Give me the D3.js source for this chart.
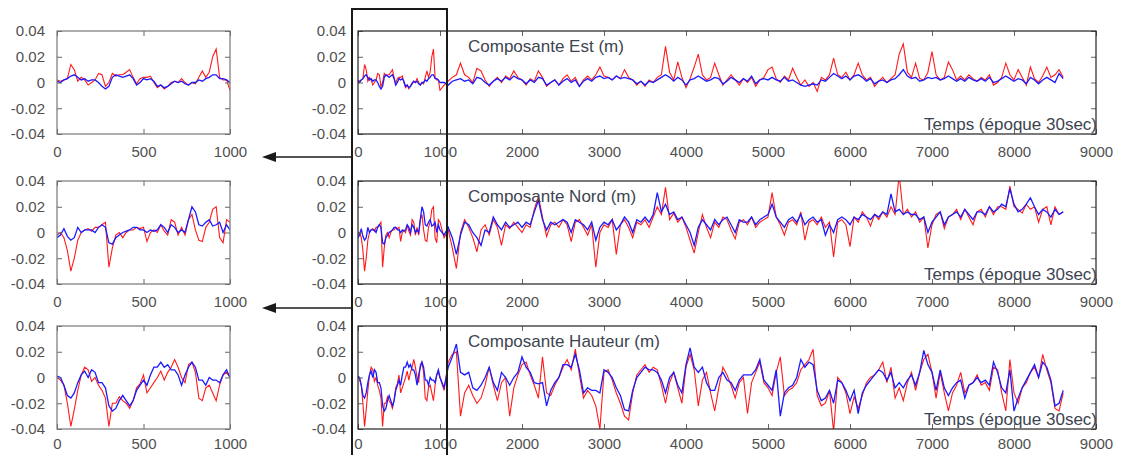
<!DOCTYPE html>
<html><head><meta charset="utf-8">
<script src="https://cdn.jsdelivr.net/npm/d3@7"></script>
<style>body{margin:0;background:#fff}svg{display:block}</style>
</head><body><svg id="c" width="1138" height="455"></svg>
<script>
// ---- DATA ----
// sampling epochs: 0..1000 every 20, then 1050..8600 every 50
const epochs = d3.range(0, 1001, 20).concat(d3.range(1050, 8601, 50));

const estRouge = [
 0.002,0.001,0.002,0.003,0.014,0.010,0.001,0.004,0.002,-0.002,
 0.000,0.002,0.007,0.006,-0.003,0.000,0.007,0.005,0.006,0.006,
 0.008,0.010,0.004,-0.001,0.003,0.004,0.004,0.005,0.000,-0.004,
 -0.002,-0.005,-0.003,0.000,0.001,0.000,0.003,0.000,-0.002,0.000,
 -0.001,0.004,0.009,0.004,0.008,0.020,0.026,0.004,0.002,0.002,
 -0.006,
 -0.002,0.001,0.004,0.006,0.015,0.006,0.004,0.000,0.011,0.009,
 0.002,-0.003,0.001,0.004,0.000,0.005,0.003,0.009,0.004,0.002,
 -0.002,0.003,0.001,0.009,0.004,-0.003,0.000,0.002,-0.002,0.003,
 0.006,0.001,0.004,-0.003,0.002,0.005,0.002,0.006,0.012,0.005,
 0.004,0.002,0.005,0.003,0.010,0.004,0.002,-0.002,0.001,-0.003,
 0.002,0.000,0.004,0.006,0.028,0.008,0.002,0.016,0.004,-0.004,
 0.003,0.012,0.022,0.006,0.002,0.004,0.015,0.006,-0.002,0.002,
 0.006,0.002,-0.002,0.003,0.000,0.004,-0.003,0.002,0.004,0.010,
 0.012,0.003,0.000,0.005,0.002,0.011,0.004,-0.002,0.002,-0.003,
 0.000,-0.007,0.004,0.002,0.006,0.019,0.006,0.004,0.008,0.002,
 0.006,0.015,0.006,0.002,0.004,-0.003,0.001,0.004,0.000,0.003,
 0.006,0.022,0.030,0.008,0.004,0.015,0.003,0.002,0.008,0.024,
 0.006,0.002,0.004,0.016,0.010,0.002,0.005,0.002,0.006,0.003,
 0.001,0.004,0.002,0.006,-0.002,0.000,0.004,0.015,0.006,0.002,
 0.010,0.004,-0.002,0.012,0.003,0.000,0.005,0.012,0.004,0.006,
 0.010,0.004
];
const estBleu = [
 0.001,0.000,0.002,0.003,0.005,0.006,0.004,0.002,0.003,0.001,
 0.002,0.002,0.000,-0.003,-0.005,-0.003,0.004,0.006,0.005,0.004,
 0.005,0.006,0.003,-0.002,0.000,0.003,0.002,0.003,0.001,-0.003,
 -0.002,-0.004,-0.003,-0.001,0.001,0.000,0.001,-0.001,-0.002,0.000,
 0.000,0.002,0.001,0.003,0.004,0.006,0.006,0.003,0.003,0.002,
 0.000,
 0.000,-0.002,0.001,0.002,0.003,0.001,0.002,-0.001,0.004,0.003,
 0.000,-0.002,0.001,0.003,0.001,0.004,0.002,0.005,0.003,0.002,
 -0.001,0.002,0.000,0.004,0.003,-0.002,0.000,0.002,-0.002,0.001,
 0.003,0.000,0.002,-0.003,0.001,0.003,0.001,0.004,0.005,0.003,
 0.004,0.002,0.005,0.003,0.004,0.003,0.002,-0.001,0.001,-0.002,
 0.001,0.000,0.002,0.004,0.006,0.004,0.001,0.004,0.002,-0.002,
 0.002,0.003,0.005,0.003,0.001,0.002,0.004,0.003,-0.001,0.001,
 0.004,0.002,0.000,0.003,0.001,0.005,-0.001,0.002,0.003,0.002,
 0.004,0.002,0.001,0.004,0.001,0.002,0.000,-0.002,-0.003,-0.002,
 -0.001,-0.002,0.002,0.001,0.004,0.007,0.005,0.003,0.005,0.002,
 0.005,0.006,0.004,0.001,0.003,-0.001,0.001,0.002,0.000,0.002,
 0.003,0.006,0.010,0.005,0.003,0.004,0.001,0.002,0.004,0.003,
 0.004,0.002,0.003,0.005,0.003,0.001,0.003,0.001,0.004,0.002,
 0.001,0.003,0.001,0.004,0.000,0.001,0.003,0.005,0.003,0.001,
 0.003,0.002,-0.001,0.004,0.002,-0.001,0.002,0.004,0.002,0.000,
 0.007,0.003
];
const nordRouge = [
 -0.002,0.000,-0.004,-0.014,-0.030,-0.020,-0.006,0.000,0.002,0.003,
 0.001,0.004,0.004,0.006,0.008,-0.027,-0.012,-0.002,0.000,-0.004,
 0.000,0.002,0.002,0.004,0.003,0.004,-0.007,0.000,0.002,0.000,
 0.006,0.001,-0.002,0.010,0.008,-0.002,0.004,-0.002,0.010,0.014,
 0.002,-0.006,-0.007,0.004,0.008,0.018,0.020,-0.004,-0.008,0.010,
 0.008,
 -0.004,0.002,-0.012,-0.028,0.000,0.010,0.004,-0.004,-0.015,0.002,
 0.006,-0.002,0.010,0.004,-0.010,0.006,0.003,0.008,0.004,0.000,
 0.006,0.004,0.018,0.028,0.012,-0.003,0.006,0.008,0.004,0.010,
 0.006,-0.007,0.008,0.010,0.004,-0.002,0.006,-0.027,0.000,0.006,
 0.004,0.010,-0.017,0.006,0.010,0.004,-0.004,0.008,0.006,0.010,
 0.004,0.012,0.020,0.014,0.035,0.010,0.015,0.008,0.012,0.004,
 -0.006,-0.016,0.000,0.014,0.004,-0.004,0.008,0.004,0.012,0.010,
 0.002,-0.005,0.008,0.010,0.006,0.012,0.004,0.008,0.010,0.012,
 0.031,0.012,0.006,-0.002,0.008,0.010,0.006,0.016,-0.006,0.008,
 0.010,0.006,0.012,0.004,0.008,-0.019,0.008,0.010,0.006,-0.011,
 0.012,0.008,0.016,0.012,0.005,0.014,0.010,0.016,0.012,0.020,
 0.014,0.045,0.014,0.018,0.012,0.016,0.008,0.012,-0.012,0.006,
 0.014,0.016,0.003,0.012,0.014,0.018,0.010,0.018,0.012,0.006,
 0.016,0.018,0.012,0.020,0.014,0.020,0.020,0.018,0.036,0.020,
 0.018,0.015,0.022,0.018,0.020,0.008,0.018,0.020,0.006,0.020,
 0.014,0.016
];
const nordBleu = [
 -0.004,-0.002,0.003,-0.003,-0.006,-0.004,0.004,0.000,0.002,0.002,
 0.002,0.000,0.004,0.006,0.004,-0.008,-0.009,-0.004,-0.002,0.000,
 0.001,0.002,0.004,0.004,0.002,0.002,0.000,0.002,0.001,0.002,
 0.006,0.004,0.000,0.006,0.004,0.000,0.002,0.000,0.010,0.020,
 0.016,0.006,0.005,0.008,0.010,0.005,0.006,0.008,0.000,0.006,
 0.002,
 -0.002,0.004,-0.004,-0.017,-0.002,0.008,0.006,0.000,-0.004,-0.010,
 0.002,0.000,0.012,0.006,0.002,0.008,0.004,0.006,0.008,0.004,
 0.008,0.006,0.016,0.025,0.010,0.002,0.008,0.006,0.008,0.010,
 0.008,0.000,0.010,0.008,0.006,0.002,0.008,-0.006,0.004,0.008,
 0.006,0.010,0.002,0.006,0.012,0.008,0.000,0.010,0.008,0.012,
 0.008,0.014,0.031,0.016,0.022,0.014,0.016,0.010,0.012,0.006,
 0.000,-0.010,0.004,0.010,0.006,0.002,0.010,0.006,0.010,0.012,
 0.006,0.000,0.010,0.008,0.008,0.012,0.006,0.010,0.012,0.014,
 0.022,0.012,0.008,0.004,0.010,0.012,0.008,0.014,0.006,0.010,
 0.012,0.008,0.010,-0.002,0.006,0.000,0.010,0.012,0.010,0.006,
 0.012,0.010,0.014,0.012,0.010,0.014,0.012,0.016,0.014,0.030,
 0.016,0.018,0.014,0.016,0.014,0.014,0.010,0.012,0.000,0.008,
 0.012,0.016,0.006,0.012,0.014,0.016,0.012,0.018,0.014,0.010,
 0.016,0.016,0.014,0.020,0.016,0.018,0.022,0.020,0.034,0.022,
 0.016,0.018,0.022,0.027,0.020,0.014,0.018,0.016,0.012,0.018,
 0.014,0.016
];
const hautRouge = [
 0.000,-0.002,-0.006,-0.020,-0.038,-0.025,-0.010,0.002,0.008,0.006,
 -0.003,0.000,-0.006,-0.010,-0.016,-0.038,-0.020,-0.020,-0.015,-0.018,
 -0.020,-0.024,-0.018,-0.008,-0.005,0.002,-0.012,-0.008,-0.004,0.000,
 0.005,-0.002,0.004,0.008,0.014,0.008,0.000,-0.004,0.010,0.012,
 0.004,-0.016,-0.018,-0.008,-0.006,-0.012,-0.018,-0.006,0.002,0.004,
 0.000,
 -0.010,0.012,0.018,0.020,-0.030,-0.012,-0.006,-0.014,-0.020,-0.016,
 -0.006,0.008,-0.006,-0.018,-0.004,0.000,-0.030,-0.008,0.002,0.010,
 0.012,0.002,-0.006,-0.016,0.016,-0.012,-0.014,-0.006,0.000,0.008,
 0.014,0.006,0.022,0.002,-0.016,-0.010,-0.014,-0.022,-0.040,0.004,
 0.006,-0.002,-0.012,-0.020,-0.030,-0.033,-0.012,0.002,0.006,0.010,
 0.004,0.008,0.006,-0.006,-0.020,-0.004,0.004,-0.008,-0.020,0.008,
 0.018,0.006,-0.022,-0.002,0.004,-0.012,-0.026,-0.008,0.008,0.002,
 -0.006,-0.016,-0.004,0.000,-0.028,-0.004,0.004,0.012,-0.004,-0.008,
 -0.014,0.004,0.016,-0.014,-0.010,-0.008,-0.004,0.006,0.010,0.014,
 0.022,-0.014,-0.022,-0.020,-0.010,-0.042,0.000,-0.004,-0.012,-0.028,
 -0.015,-0.024,-0.014,-0.004,0.000,0.002,0.006,0.012,-0.004,0.008,
 -0.016,-0.008,-0.018,-0.004,0.004,-0.010,0.004,0.014,0.018,0.004,
 -0.016,0.004,-0.012,-0.026,-0.012,-0.006,0.004,-0.012,-0.006,-0.004,
 0.002,-0.006,-0.004,-0.010,0.008,0.006,-0.012,-0.026,0.014,-0.012,
 -0.020,-0.008,-0.004,0.004,0.008,0.000,0.018,0.006,-0.004,-0.024,
 -0.026,-0.012
];
const hautBleu = [
 0.001,0.000,-0.006,-0.014,-0.016,-0.012,-0.004,0.002,0.005,0.000,
 0.006,0.004,-0.004,-0.004,-0.008,-0.022,-0.026,-0.024,-0.018,-0.014,
 -0.018,-0.022,-0.018,-0.010,-0.006,-0.002,-0.006,0.002,0.008,0.008,
 0.012,0.008,0.010,0.006,0.006,0.002,-0.006,0.002,0.008,0.012,
 0.008,-0.002,-0.002,-0.006,0.000,-0.002,-0.002,-0.004,0.002,0.006,
 0.000,
 -0.008,0.008,0.016,0.026,0.004,0.002,0.004,-0.008,-0.010,-0.006,
 0.000,0.008,-0.004,-0.010,0.004,0.000,-0.006,0.000,0.004,0.016,
 0.008,0.004,-0.004,-0.005,-0.004,-0.022,-0.010,-0.004,0.000,0.010,
 0.010,0.008,0.018,0.006,-0.012,-0.008,-0.010,-0.010,-0.012,0.006,
 0.004,0.000,-0.008,-0.014,-0.025,-0.026,-0.010,0.000,0.004,0.008,
 0.006,0.006,0.004,-0.002,-0.012,0.000,0.004,-0.006,-0.012,0.010,
 0.023,0.008,0.004,0.008,-0.004,-0.010,-0.010,0.000,0.004,-0.002,
 -0.004,-0.010,-0.002,0.002,0.002,0.002,0.006,0.014,-0.002,-0.006,
 -0.010,0.006,-0.030,-0.012,-0.008,-0.006,0.000,0.014,0.008,0.012,
 0.010,-0.010,-0.018,-0.016,-0.010,-0.020,-0.002,-0.004,-0.010,-0.018,
 -0.010,-0.028,-0.012,-0.006,-0.002,0.002,0.006,0.004,-0.002,0.004,
 -0.008,-0.004,-0.008,-0.002,0.002,-0.006,0.004,0.021,0.010,0.004,
 -0.010,0.006,-0.008,-0.014,-0.008,-0.004,-0.002,-0.016,-0.006,-0.004,
 0.000,-0.004,-0.002,-0.006,0.012,0.004,-0.008,-0.012,0.006,-0.026,
 -0.016,-0.008,-0.002,0.004,0.010,0.000,0.012,0.008,-0.002,-0.022,
 -0.020,-0.010
];

const titres = ['Composante Est (m)', 'Composante Nord (m)', 'Composante Hauteur (m)'];
const axeTemps = 'Temps (époque 30sec)';
const yTicks = [0.04, 0.02, 0, -0.02, -0.04];
const yTickLabels = ['0.04', '0.02', '0', '-0.02', '-0.04'];
const xTicksMain = [0, 1000, 2000, 3000, 4000, 5000, 6000, 7000, 8000, 9000];
const xTicksZoom = [0, 500, 1000];

// ---- DRAWING ----
const svg = d3.select('#c');
const FONT = '"Liberation Sans", Arial, sans-serif';
const rows = [{t: 31, b: 134, p: 12}, {t: 181, b: 284, p: 12}, {t: 326, b: 429, p: 9}];
const comps = [[estRouge, estBleu], [nordRouge, nordBleu], [hautRouge, hautBleu]];
const yFmt = d => yTickLabels[yTicks.indexOf(d)];

function panel(id, x0, x1, top, bot, pad, dom, xt, red, blue, frame, title) {
  const x = d3.scaleLinear().domain(dom).range([x0, x1]);
  const y = d3.scaleLinear().domain([-0.04, 0.04]).range([bot, top]);
  const g = svg.append('g');
  g.append('clipPath').attr('id', id).append('rect')
    .attr('x', x0).attr('y', top).attr('width', x1 - x0).attr('height', bot - top);
  const pts = epochs.map((e, i) => i).filter(i => epochs[i] >= dom[0] && epochs[i] <= dom[1]);
  const line = arr => d3.line().x(i => x(epochs[i])).y(i => y(arr[i]))(pts);
  g.append('path').attr('d', line(red)).attr('fill', 'none').attr('stroke', '#ff1a1a')
    .attr('stroke-width', 1.1).attr('clip-path', `url(#${id})`);
  g.append('path').attr('d', line(blue)).attr('fill', 'none').attr('stroke', '#1a1aff')
    .attr('stroke-width', 1.3).attr('clip-path', `url(#${id})`);

  const ax = (sel) => { sel.select('.domain').remove(); sel.selectAll('line').attr('stroke', '#666'); sel.selectAll('text').attr('fill', '#505050').style('font', `15px ${FONT}`); };
  g.append('g').attr('transform', `translate(0,${bot})`)
    .call(d3.axisBottom(x).tickValues(xt).tickFormat(d3.format('d')).tickSizeInner(-5).tickSizeOuter(0).tickPadding(pad)).call(ax);
  g.append('g').attr('transform', `translate(0,${top})`)
    .call(d3.axisTop(x).tickValues(xt).tickFormat('').tickSizeInner(-5).tickSizeOuter(0)).call(ax);
  g.append('g').attr('transform', `translate(${x0},0)`)
    .call(d3.axisLeft(y).tickValues(yTicks).tickFormat(yFmt).tickSizeInner(-5).tickSizeOuter(0).tickPadding(12)).call(ax);
  g.append('g').attr('transform', `translate(${x1},0)`)
    .call(d3.axisRight(y).tickValues(yTicks).tickFormat('').tickSizeInner(-5).tickSizeOuter(0)).call(ax);
  g.append('rect').attr('x', x0).attr('y', top).attr('width', x1 - x0).attr('height', bot - top)
    .attr('fill', 'none').attr('stroke', frame).attr('stroke-width', 1.2);
  if (title) {
    g.append('text').attr('x', 468).attr('y', top + 21).text(title)
      .attr('fill', '#3c4450').style('font', `17px ${FONT}`);
    g.append('text').attr('x', x1 + 1).attr('y', bot - 4).attr('text-anchor', 'end').text(axeTemps)
      .attr('fill', '#3c4450').style('font', `17px ${FONT}`);
  }
}

rows.forEach((r, k) => {
  panel('cz' + k, 57, 230, r.t, r.b, r.p, [0, 1000], xTicksZoom, comps[k][0], comps[k][1], '#777', null);
  panel('cm' + k, 358, 1096, r.t, r.b, r.p, [0, 9000], xTicksMain, comps[k][0], comps[k][1], '#222', titres[k]);
});

// overlay: zoom window and arrows
svg.append('path').attr('d', 'M352,455 V9 H447 V455').attr('fill', 'none')
  .attr('stroke', '#1a1a1a').attr('stroke-width', 2);
[157, 308].forEach(yy => {
  svg.append('line').attr('x1', 352).attr('x2', 272).attr('y1', yy).attr('y2', yy)
    .attr('stroke', '#1a1a1a').attr('stroke-width', 1.5);
  svg.append('path').attr('d', `M262,${yy} L276,${yy - 5} L276,${yy + 5} Z`).attr('fill', '#1a1a1a');
});
</script></body></html>
